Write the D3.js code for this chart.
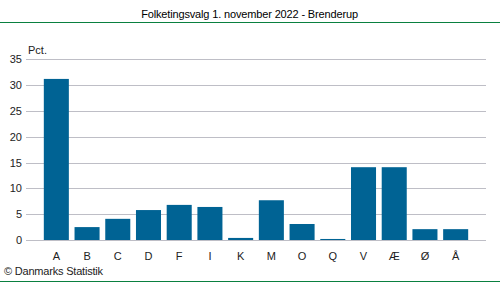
<!DOCTYPE html>
<html><head><meta charset="utf-8">
<script src="https://cdn.jsdelivr.net/npm/d3@7"></script>
<style>body{margin:0;background:#fff}svg{display:block}text{font-family:Arial,"Liberation Sans",sans-serif}</style>
</head><body>
<script>
const categories = ["A","B","C","D","F","I","K","M","O","Q","V","Æ","Ø","Å"];
const values = [31.2,2.5,4.1,5.8,6.8,6.4,0.4,7.7,3.1,0.2,14.1,14.1,2.1,2.1];
const yTicks = [0,5,10,15,20,25,30,35];
const title = "Folketingsvalg 1. november 2022 - Brenderup";
const yUnit = "Pct.";
const credit = "© Danmarks Statistik";

(function(){
const W=500,H=282;
const svg=d3.select("body").append("svg").attr("width",W).attr("height",H);
const pL=26,pR=486,pT=59.3,pB=240;
const x=d3.scaleBand().domain(categories).range([pL,pR]).paddingInner(0.185).paddingOuter(0.58);
const y=d3.scaleLinear().domain([0,35]).range([pB,pT]);
const fs=11;

svg.append("text").attr("x",249.5).attr("y",18).attr("text-anchor","middle").attr("font-size",fs).attr("fill","#000").attr("letter-spacing",-0.15).text(title);
svg.append("line").attr("x1",0).attr("x2",W).attr("y1",22.5).attr("y2",22.5).attr("stroke","#0a8040").attr("stroke-width",1);
svg.append("line").attr("x1",0).attr("x2",W).attr("y1",281.5).attr("y2",281.5).attr("stroke","#0a8040").attr("stroke-width",1);

const g=svg.append("g");
g.selectAll("line.grid").data(yTicks).join("line").attr("class","grid")
 .attr("x1",pL).attr("x2",pR).attr("y1",d=>Math.round(y(d))+0.5).attr("y2",d=>Math.round(y(d))+0.5)
 .attr("stroke","#bebec6").attr("stroke-width",1);
g.selectAll("text.yt").data(yTicks).join("text").attr("class","yt")
 .attr("x",22).attr("y",d=>y(d)+4).attr("text-anchor","end").attr("font-size",fs).attr("fill","#222").text(d=>d);
svg.append("text").attr("x",28).attr("y",54).attr("font-size",fs).attr("fill","#222").text(yUnit);

g.selectAll("rect").data(values).join("rect")
 .attr("x",(d,i)=>x(categories[i])).attr("width",x.bandwidth())
 .attr("y",d=>y(d)).attr("height",d=>y(0)-y(d)).attr("fill","#006394");

g.selectAll("text.xt").data(categories).join("text").attr("class","xt")
 .attr("x",d=>x(d)+x.bandwidth()/2).attr("y",260).attr("text-anchor","middle").attr("font-size",fs).attr("fill","#222").text(d=>d);

svg.append("text").attr("x",4).attr("y",275).attr("font-size",fs).attr("fill","#222").attr("letter-spacing",-0.2).text(credit);
})();
</script>
</body></html>
